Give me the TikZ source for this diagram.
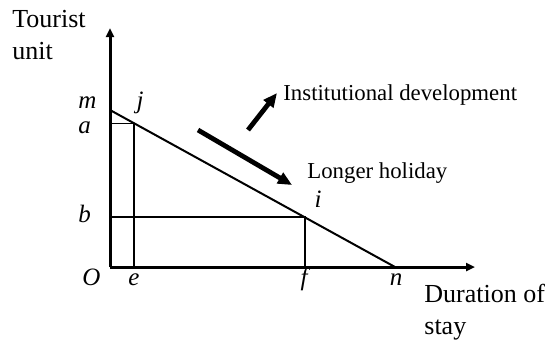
\documentclass[tikz,border=0pt]{standalone}
\usepackage{fontspec}
\setmainfont{Liberation Serif}
\usetikzlibrary{arrows.meta,positioning}
\tikzset{
  axis/.style={-{Triangle[length=4.5pt,width=4pt]},line width=1.5pt},
  demand/.style={line width=1pt},
  guide/.style={line width=0.8pt},
  trendarrow/.style={-{Triangle[length=7pt,width=6pt]},line width=2.4pt},
  letter/.style={font=\fontsize{12.5}{14}\selectfont\itshape,inner sep=0pt},
  caption/.style={font=\fontsize{11.4}{13.5}\selectfont,inner sep=0pt},
  axislabel/.style={font=\fontsize{13}{15.8}\selectfont,inner sep=0pt,align=left}
}
\begin{document}
\begin{tikzpicture}[x=0.5pt,y=-0.5pt]
  \useasboundingbox (0,0) rectangle (547,339);
  % axes
  \coordinate (O) at (110,267);
  \coordinate (ytip) at (110,28);
  \coordinate (xtip) at (475,267);
  \draw[axis] (O) -- (ytip);
  \draw[axis] (O) -- (xtip);
  % demand line and guides
  \coordinate (m) at (110,110);
  \coordinate (n) at (395,267);
  \coordinate (a) at (110,123.5);
  \coordinate (jpt) at (134,123.5);
  \coordinate (e) at (134,267);
  \coordinate (b) at (110,217);
  \coordinate (ipt) at (305,217);
  \coordinate (f) at (305,267);
  \draw[demand] (m) -- (n);
  \draw[guide] (a) -- (jpt) -- (e);
  \draw[guide] (b) -- (ipt) -- (f);
  % shifts
  \coordinate (lhStart) at (198,130);
  \coordinate (lhEnd) at (292,185);
  \coordinate (idStart) at (248,130);
  \coordinate (idEnd) at (277,93);
  \draw[trendarrow] (lhStart) -- (lhEnd);
  \draw[trendarrow] (idStart) -- (idEnd);
  % letters
  \node[letter,anchor=base west] (mlab) at (78,108) {m};
  \node[letter,anchor=base] (jlab) at (140,108) {j};
  \node[letter,anchor=base west] (alab) at (78,133) {a};
  \node[letter,anchor=base west] (blab) at (78,222) {b};
  \node[letter,anchor=base west] (Olab) at (82,285) {O};
  \node[letter,anchor=base] (elab) at (134,285) {e};
  \node[letter,anchor=base] (flab) at (304,285) {f};
  \node[letter,anchor=base] (nlab) at (396,285) {n};
  \node[letter,anchor=base] (ilab) at (318,207) {i};
  % texts
  \node[axislabel,anchor=base west] (ylab) at (12,59) {Tourist\\unit};
  \node[axislabel,anchor=base west] (xlab) at (424,334) {Duration of\\stay};
  \node[caption,anchor=base west] (idlab) at (283,100) {Institutional development};
  \node[caption,anchor=base west] (lhlab) at (307,178) {Longer holiday};
\end{tikzpicture}
\end{document}
